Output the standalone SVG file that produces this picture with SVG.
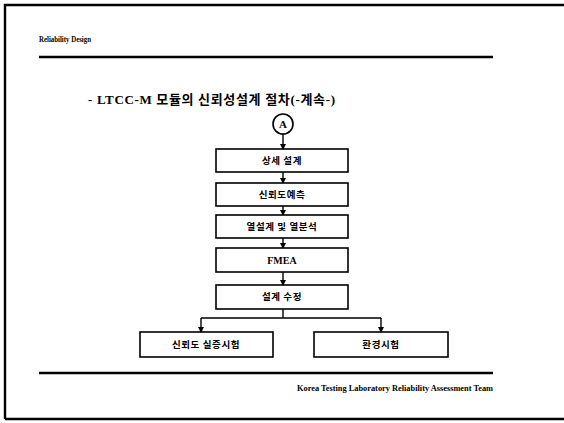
<svg xmlns="http://www.w3.org/2000/svg" width="564" height="423" viewBox="0 0 564 423">
<style>
.box{fill:#fff;stroke:#000;stroke-width:1.6}
.kr{font-family:"Noto Sans CJK KR","Noto Sans",sans-serif;font-weight:bold;font-size:9.5px;fill:#000;text-anchor:middle;letter-spacing:0.6px}
.lat{font-family:"Liberation Serif","Noto Sans CJK KR",serif;font-weight:bold;fill:#000}
.rule{stroke:#000;stroke-width:2.4;fill:none}
.con{stroke:#000;stroke-width:1.4;fill:none}
</style>
<defs>
<marker id="ah" markerWidth="6" markerHeight="6" refX="5" refY="3" orient="auto" markerUnits="userSpaceOnUse">
<path d="M0,0 L6,3 L0,6 Z" fill="#000"/>
</marker>
</defs>
<rect width="564" height="423" fill="#fff"/>
<g id="frame">
<path d="M5,419 L5,5 L564,5" class="rule" stroke-width="2"/>
<path d="M5,419 L564,419" class="rule" stroke-width="2"/>
</g>
<g id="header">
<text class="lat" x="39" y="42" font-size="7.5" textLength="52" lengthAdjust="spacingAndGlyphs">Reliability Design</text>
<line x1="39" y1="57" x2="493" y2="57" class="rule"/>
</g>
<g id="title">
<text class="lat" x="88" y="104" font-size="13" textLength="247">- LTCC-M 모듈의 신뢰성설계 절차(-계속-)</text>
</g>
<g id="connectors">
<line x1="283" y1="134" x2="283" y2="149" class="con" marker-end="url(#ah)"/>
<line x1="283" y1="172" x2="283" y2="183" class="con" marker-end="url(#ah)"/>
<line x1="283" y1="206" x2="283" y2="215" class="con" marker-end="url(#ah)"/>
<line x1="283" y1="238" x2="283" y2="248" class="con" marker-end="url(#ah)"/>
<line x1="283" y1="272" x2="283" y2="285" class="con" marker-end="url(#ah)"/>
<path d="M283,309 L283,318 M201,318 L381,318" class="con"/>
<line x1="201" y1="318" x2="201" y2="332" class="con" marker-end="url(#ah)"/>
<line x1="381" y1="318" x2="381" y2="332" class="con" marker-end="url(#ah)"/>
</g>
<g id="nodeA">
<circle cx="283" cy="124" r="10" fill="#fff" stroke="#000" stroke-width="1.6"/>
<text class="lat" x="283" y="128" font-size="11" text-anchor="middle">A</text>
</g>
<g id="n1"><rect class="box" x="216" y="149" width="132" height="23"/><text class="kr" x="282" y="164">상세 설계</text></g>
<g id="n2"><rect class="box" x="216" y="183" width="132" height="23"/><text class="kr" x="282" y="198">신뢰도예측</text></g>
<g id="n3"><rect class="box" x="216" y="215" width="132" height="23"/><text class="kr" x="282" y="230">열설계 및 열분석</text></g>
<g id="n4"><rect class="box" x="216" y="248" width="132" height="24"/><text class="lat" x="282" y="264" font-size="10" text-anchor="middle">FMEA</text></g>
<g id="n5"><rect class="box" x="216" y="285" width="132" height="24"/><text class="kr" x="282" y="300">설계 수정</text></g>
<g id="n6"><rect class="box" x="140" y="332" width="133" height="25"/><text class="kr" x="206" y="348">신뢰도 실증시험</text></g>
<g id="n7"><rect class="box" x="314" y="332" width="134" height="25"/><text class="kr" x="381" y="348">환경시험</text></g>
<g id="footer">
<line x1="39" y1="373" x2="493" y2="373" class="rule"/>
<text class="lat" x="297" y="391" font-size="8" textLength="196" lengthAdjust="spacingAndGlyphs">Korea Testing Laboratory   Reliability Assessment Team</text>
</g>
</svg>
